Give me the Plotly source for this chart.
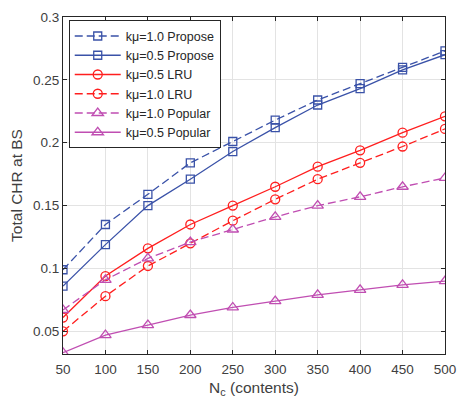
import plotly.graph_objects as go

n_c = [50, 100, 150, 200, 250, 300, 350, 400, 450, 500]
propose_k10 = [0.099, 0.135, 0.159, 0.184, 0.201, 0.218, 0.234, 0.247, 0.260, 0.273]
propose_k05 = [0.086, 0.119, 0.150, 0.171, 0.193, 0.212, 0.230, 0.243, 0.258, 0.270]
lru_k05 = [0.061, 0.094, 0.116, 0.135, 0.150, 0.165, 0.181, 0.194, 0.208, 0.221]
lru_k10 = [0.050, 0.078, 0.102, 0.120, 0.138, 0.155, 0.171, 0.184, 0.197, 0.211]
popular_k10 = [0.067, 0.091, 0.108, 0.121, 0.131, 0.141, 0.150, 0.157, 0.165, 0.172]
popular_k05 = [0.033, 0.047, 0.055, 0.063, 0.069, 0.074, 0.079, 0.083, 0.087, 0.090]

x_ticks = [50, 100, 150, 200, 250, 300, 350, 400, 450, 500]
y_ticks = [0.05, 0.1, 0.15, 0.2, 0.25, 0.3]
y_ticktext = ["0.05", "0.1", "0.15", "0.2", "0.25", "0.3"]

BLUE = "#3A52A8"
RED = "#FF1E1E"
PURPLE = "#C04EB2"

series = [
    ("kμ=1.0 Propose", propose_k10, BLUE, "dash", "square-open", 8),
    ("kμ=0.5 Propose", propose_k05, BLUE, "solid", "square-open", 8),
    ("kμ=0.5 LRU", lru_k05, RED, "solid", "circle-open", 9),
    ("kμ=1.0 LRU", lru_k10, RED, "dash", "circle-open", 9),
    ("kμ=1.0 Popular", popular_k10, PURPLE, "dash", "triangle-up-open", 10),
    ("kμ=0.5 Popular", popular_k05, PURPLE, "solid", "triangle-up-open", 10),
]

fig = go.Figure()
for name, ys, col, dash, sym, sz in series:
    fig.add_trace(go.Scatter(
        x=n_c, y=ys, name=name, mode="lines+markers",
        line=dict(color=col, width=1.3, dash="8px,4px" if dash == "dash" else "solid"),
        marker=dict(symbol=sym, size=sz, color=col, line=dict(color=col, width=1.3)),
    ))

axis_common = dict(
    showgrid=True, gridcolor="#E3E3E3", gridwidth=1,
    showline=True, linecolor="#262626", linewidth=1, mirror="allticks",
    ticks="inside", ticklen=4, tickcolor="#262626",
    tickfont=dict(family="Liberation Sans, Arial", size=13.5, color="#404040"),
    zeroline=False,
)

fig.update_layout(
    width=466, height=403,
    margin=dict(l=63, r=12, t=10, b=48),
    paper_bgcolor="white", plot_bgcolor="white",
    font=dict(family="Liberation Sans, Arial", size=13.5, color="#404040"),
    xaxis=dict(range=[50, 500], tickvals=x_ticks, ticklabelstandoff=3,
               title=dict(text="N<sub>c</sub> (contents)", standoff=5,
                          font=dict(size=15.5, color="#404040")),
               **axis_common),
    yaxis=dict(range=[0.032, 0.3], tickvals=y_ticks, ticktext=y_ticktext,
               title=dict(text="Total CHR at BS", standoff=6,
                          font=dict(size=15.5, color="#404040")),
               **axis_common),
    legend=dict(x=0.015, y=0.99, xanchor="left", yanchor="top",
                bgcolor="white", bordercolor="#262626", borderwidth=1,
                font=dict(family="Liberation Sans, Arial", size=12.5, color="#262626"),
                tracegroupgap=0, itemwidth=46),
    showlegend=True,
)

fig.write_html("out.html")
